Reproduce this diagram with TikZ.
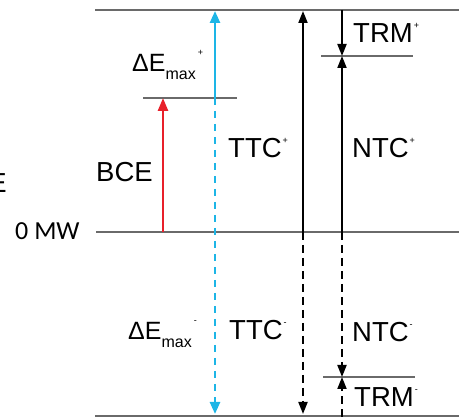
\documentclass[tikz,border=0pt]{standalone}
\usepackage{fontspec}
\setmainfont{Liberation Sans}
\newfontfamily\mwfont{Carlito}
\usetikzlibrary{arrows.meta,positioning}
\definecolor{levelgray}{HTML}{6A6A6A}
\definecolor{bcered}{HTML}{E8202A}
\definecolor{deltacyan}{HTML}{1DB5E6}
\newcommand{\supsign}[1]{\hspace{1pt}\raisebox{14pt}{\fontsize{9}{9}\selectfont #1}}
\newcommand{\demax}[1]{ΔE\raisebox{-8pt}{\fontsize{16}{16}\selectfont max}\hspace{2pt}\raisebox{16pt}{\fontsize{9}{9}\selectfont #1}}
\tikzset{
  levelline/.style={draw=levelgray, line width=1.3pt},
  flowarrow/.style={-{Triangle[length=12pt,width=9pt]}, line width=2pt, draw=black},
  dashedflow/.style={flowarrow, dash pattern=on 8pt off 5pt},
  bcearrow/.style={-{Triangle[length=13pt,width=10pt]}, line width=2.5pt, draw=bcered},
  deltaarrow/.style={-{Triangle[length=12pt,width=10pt]}, line width=2.5pt, draw=deltacyan},
  dasheddelta/.style={deltaarrow, dash pattern=on 7pt off 6pt},
  biglabel/.style={inner sep=0pt, anchor=base west, font=\fontsize{27.5}{28}\selectfont},
  deltalabel/.style={inner sep=0pt, anchor=base west, font=\fontsize{25}{26}\selectfont}
}

\begin{document}
\begin{tikzpicture}[x=1pt, y=-1pt]
  \useasboundingbox (0,0) rectangle (459,417);
  % levels
  \coordinate (topW) at (95,10);
  \coordinate (topE) at (459,10);
  \coordinate (bceW) at (143,98);
  \coordinate (bceE) at (237,98);
  \coordinate (zeroW) at (96,232);
  \coordinate (zeroE) at (459,232);
  \coordinate (botW) at (95,416);
  \coordinate (botE) at (459,416);
  \coordinate (trmpW) at (321,56);
  \coordinate (trmpE) at (413,56);
  \coordinate (trmmW) at (323,377);
  \coordinate (trmmE) at (415,377);
  \draw[levelline] (topW) -- (topE);
  \draw[levelline] (bceW) -- (bceE);
  \draw[levelline] (zeroW) -- (zeroE);
  \draw[levelline] (botW) -- (botE);
  \draw[levelline] (trmpW) -- (trmpE);
  \draw[levelline] (trmmW) -- (trmmE);

  % arrow ends
  \coordinate (bceBase) at (163,232);
  \coordinate (bceTip) at (163,98);
  \coordinate (dBase) at (215,98);
  \coordinate (dUp) at (215,11);
  \coordinate (dDown) at (215,414);
  \coordinate (ttcBase) at (303,232);
  \coordinate (ttcUp) at (303,11);
  \coordinate (ttcDown) at (303,414);
  \coordinate (ntcBase) at (342,232);
  \coordinate (ntcUp) at (342,56);
  \coordinate (ntcDown) at (342,377);
  \coordinate (trmTop) at (342,10);
  \coordinate (trmBot) at (342,417);

  \draw[bcearrow] (bceBase) -- (bceTip);
  \draw[deltaarrow] (dBase) -- (dUp);
  \draw[dasheddelta] (dBase) -- (dDown);
  \draw[flowarrow] (ttcBase) -- (ttcUp);
  \draw[dashedflow] (ttcBase) -- (ttcDown);
  \draw[flowarrow] (ntcBase) -- (ntcUp);
  \draw[flowarrow] (trmTop) -- (ntcUp);
  \draw[dashedflow] (ntcBase) -- (ntcDown);
  \draw[dashedflow] (trmBot) -- (ntcDown);

  % labels
  \node[biglabel, anchor=base east] (cutE) at (7,193) {E};
  \node[inner sep=0pt, anchor=base west, font=\mwfont\fontsize{26}{26}\selectfont] (zeroMW) at (15,240) {0 MW};
  \node[biglabel] (bce) at (96,182) {BCE};
  \node[deltalabel] (demaxp) at (132,72) {\demax{+}};
  \node[deltalabel] (demaxm) at (128,340) {\demax{-}};
  \node[biglabel] (ttcp) at (228,158) {TTC\supsign{+}};
  \node[biglabel] (ttcm) at (229,340) {TTC\supsign{-}};
  \node[biglabel] (ntcp) at (352,158) {NTC\supsign{+}};
  \node[biglabel] (ntcm) at (352,342) {NTC\supsign{-}};
  \node[biglabel] (trmp) at (353,43) {TRM\supsign{+}};
  \node[biglabel] (trmm) at (354,407) {TRM\supsign{-}};
\end{tikzpicture}
\end{document}
